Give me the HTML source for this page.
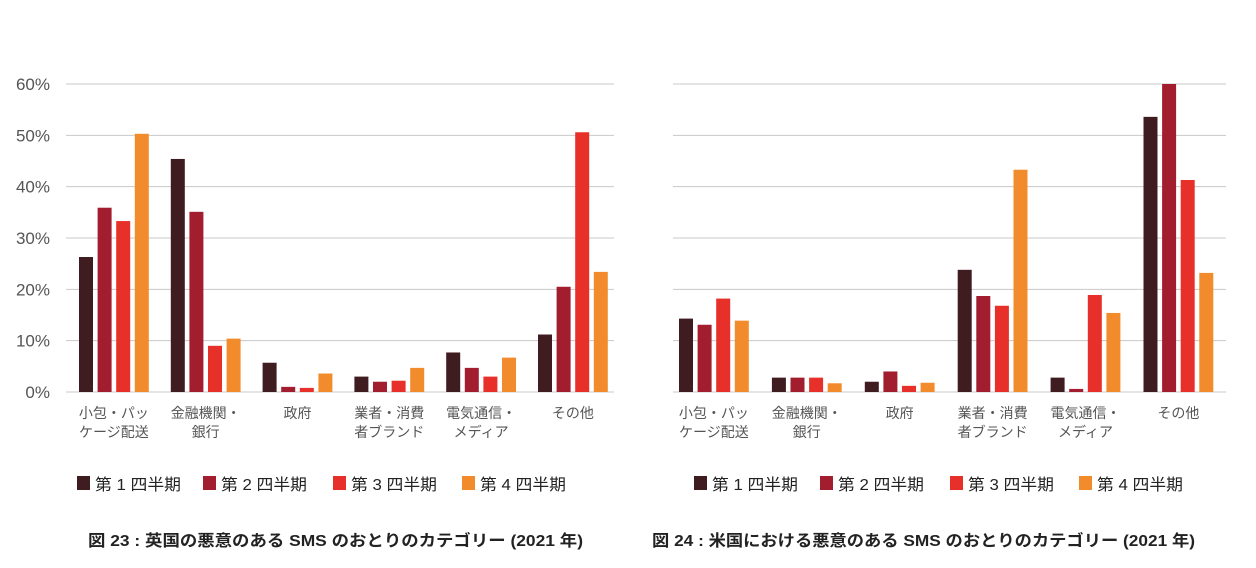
<!DOCTYPE html>
<html><head><meta charset="utf-8"><style>
body{margin:0;background:#fff;width:1256px;height:563px;overflow:hidden}
svg text{font-family:"Liberation Sans","Noto Sans CJK JP",sans-serif}
</style></head><body>
<svg id="svg" width="1256" height="563"></svg>
<script>
const categories=["小包・パッ|ケージ配送","金融機関・|銀行","政府","業者・消費|者ブランド","電気通信・|メディア","その他"];
const seriesNames=["第 1 四半期","第 2 四半期","第 3 四半期","第 4 四半期"];
const ukQ1=[26.3,45.4,5.7,3.0,7.7,11.2];
const ukQ2=[35.9,35.1,1.0,2.0,4.7,20.5];
const ukQ3=[33.3,9.0,0.8,2.2,3.0,50.6];
const ukQ4=[50.3,10.4,3.6,4.7,6.7,23.4];
const usQ1=[14.3,2.8,2.0,23.8,2.8,53.6];
const usQ2=[13.1,2.8,4.0,18.7,0.6,60];
const usQ3=[18.2,2.8,1.2,16.8,18.9,41.3];
const usQ4=[13.9,1.7,1.8,43.3,15.4,23.2];
const yTicks=[0,10,20,30,40,50,60];
const colors=["#3f1c1f","#a21e2f","#e8302a","#f28b2b"];
const NS="http://www.w3.org/2000/svg";
const svg=document.getElementById('svg');
function mk(t,a,p){const e=document.createElementNS(NS,t);for(const k in a)e.setAttribute(k,a[k]);(p||svg).appendChild(e);return e;}
function chart(cfg){
  const g=mk('g',{});
  
  
  const y=v=>392-v*(392-84)/60;
  yTicks.forEach(t=>{
    const l=mk('line',{x1:cfg.gx0,x2:cfg.gx1,y1:y(t),y2:y(t),stroke:'#c8c8c8','stroke-width':1},g);
    
    
    if(cfg.labels){
      const tx=mk('text',{x:50,y:y(t)+6,'text-anchor':'end','font-size':17,fill:'#555'},g);
      tx.textContent=t+'%';
      
      
    }
  });
  const data=cfg.data;
  categories.forEach((c,i)=>{
    const gx=cfg.x0+i*cfg.step;
    data.forEach((s,j)=>{
      const r=mk('rect',{x:gx+j*18.6,y:y(s[i]),width:14,height:y(0)-y(s[i]),fill:colors[j]},g);
      
      
    });
    const cx=gx+(3*18.6+14)/2;
    c.split('|').forEach((ln,k)=>{
      const tx=mk('text',{x:cx,y:418+k*19,'text-anchor':'middle','font-size':14,fill:'#555'},g);
      tx.textContent=ln;
      
      
    });
  });
  seriesNames.forEach((n,j)=>{
    const lx=cfg.lx+[0,126,256,385][j];
    const r=mk('rect',{x:lx,y:476,width:13,height:14,fill:colors[j]},g);
    
    
    const tx=mk('text',{x:lx+18,y:490,'font-size':16,fill:'#222',textLength:86,lengthAdjust:'spacingAndGlyphs'},g);
    tx.textContent=n;
    
    
  });
  const tt=mk('text',{x:cfg.tx,y:546,'font-size':16,'font-weight':'bold',fill:'#222',textLength:cfg.tl,lengthAdjust:'spacingAndGlyphs'},g);
  tt.textContent=cfg.title;
  
  
}
chart({name:'uk-chart',key:'uk',gx0:66,gx1:614,x0:79,step:91.8,labels:true,data:[ukQ1,ukQ2,ukQ3,ukQ4],lx:77,tx:88,tl:495,title:'図 23 : 英国の悪意のある SMS のおとりのカテゴリー (2021 年)'});
chart({name:'us-chart',key:'us',gx0:673,gx1:1226,x0:679,step:92.9,labels:false,data:[usQ1,usQ2,usQ3,usQ4],lx:694,tx:652,tl:543,title:'図 24 : 米国における悪意のある SMS のおとりのカテゴリー (2021 年)'});
</script>
</body></html>
